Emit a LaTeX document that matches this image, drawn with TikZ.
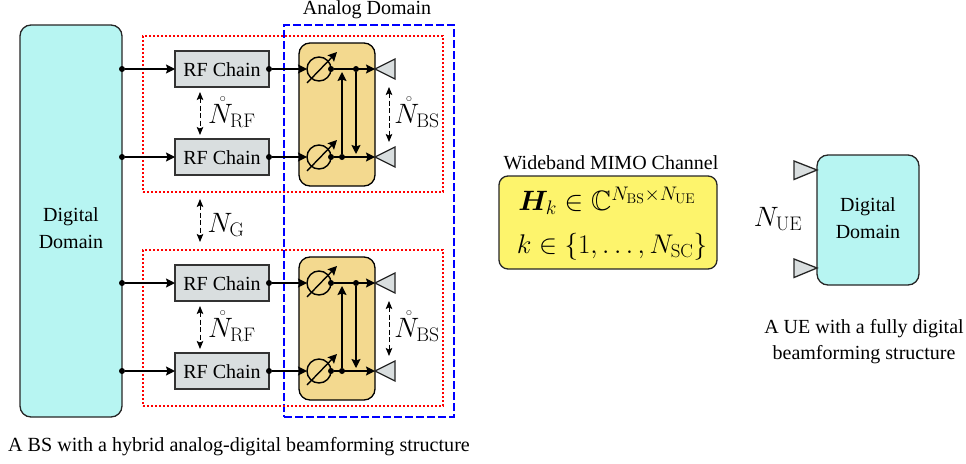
\documentclass[tikz,border=0pt]{standalone}
\usepackage{fix-cm}
\usepackage{amsmath,amssymb,bm}
\usepackage[no-math]{fontspec}
\newfontfamily\capfont{Liberation Serif}
\usetikzlibrary{arrows.meta,calc}
\definecolor{digcol}{HTML}{B7F5F2}
\definecolor{rfcol}{HTML}{D9DEDF}
\definecolor{goldcol}{HTML}{F3D98F}
\definecolor{yelcol}{HTML}{FDF46C}
\tikzset{
  x=1pt,y=-1pt,
  every node/.style={inner sep=0pt,outer sep=0pt},
  txt/.style={font=\capfont\fontsize{20}{24}\selectfont,align=center,text=black},
  mathbig/.style={font=\fontsize{28}{32}\selectfont},
  digitalbox/.style={draw=black!85,line width=1.3pt,fill=digcol,rounded corners=11pt},
  rfbox/.style={draw=black!80,line width=1.4pt,fill=rfcol,minimum width=94pt,minimum height=36pt},
  goldbox/.style={draw=black,line width=1.3pt,fill=goldcol,rounded corners=11pt,minimum width=76pt,minimum height=143pt},
  redbox/.style={draw=red,line width=2pt,dash pattern=on 2pt off 2pt,minimum width=300pt,minimum height=156pt},
  bluebox/.style={draw=blue,line width=2pt,dash pattern=on 8pt off 3pt,minimum width=170pt,minimum height=392pt},
  shifter/.style={draw=black,line width=1.4pt,circle,minimum size=24pt},
  wire/.style={line width=1.4pt,-{Stealth[length=9pt,width=9pt,inset=1.5pt]}},
  dashdbl/.style={line width=1pt,dash pattern=on 5pt off 2.5pt,{Stealth[length=8pt,width=6.5pt,inset=1.5pt]}-{Stealth[length=8pt,width=6.5pt,inset=1.5pt]}},
  dotmark/.style={circle,fill=black,minimum size=6pt},
  ant/.style={draw=black!85,line width=1.3pt,fill=rfcol,line join=miter},
}
\begin{document}
\begin{tikzpicture}
\useasboundingbox (0,0) rectangle (966,463);
% BS digital domain
\node[digitalbox,minimum width=102pt,minimum height=392pt] (bsd) at (71,221) {};
\node[txt] (bsl) at (71,228) {Digital\\[3pt]Domain};
% domain frames
\node[bluebox] (blue) at (369,221) {};
\node[txt,anchor=center] (analog) at (367,10) {Analog Domain};
\foreach \b/\o in {a/0,b/214}{
  \node[redbox] (\b red) at (293,{114+\o}) {};
  \node[goldbox] (\b gold) at (337,{114.5+\o}) {};
  \node[rfbox] (\b rf1) at (222,{69+\o}) {};
  \node[rfbox] (\b rf2) at (222,{157+\o}) {};
  \node[txt] (\b rl1) at (222,{70+\o}) {RF Chain};
  \node[txt] (\b rl2) at (222,{158+\o}) {RF Chain};
  \node[shifter] (\b ps1) at (319,{69+\o}) {};
  \node[shifter] (\b ps2) at (319,{157+\o}) {};
  \coordinate (\b tip1) at (375,{69+\o});
  \coordinate (\b tip2) at (375,{157+\o});
  \coordinate (\b src1) at (122,{69+\o});
  \coordinate (\b src2) at (122,{157+\o});
  % antennas
  \draw[ant] (\b tip1) -- ++(20,-10) -- ++(0,20) -- cycle;
  \draw[ant] (\b tip2) -- ++(20,-10) -- ++(0,20) -- cycle;
  % shifter slashes
  \draw[wire] ([xshift=-12pt,yshift=-14pt]\b ps1.center) -- ([xshift=18pt,yshift=17pt]\b ps1.center);
  \draw[wire] ([xshift=-12pt,yshift=-14pt]\b ps2.center) -- ([xshift=18pt,yshift=17pt]\b ps2.center);
  % signal wires
  \node[dotmark] (\b d1) at (\b src1) {};
  \node[dotmark] (\b d2) at (\b src2) {};
  \draw[wire] (\b d1) -- (\b rf1.west);
  \draw[wire] (\b d2) -- (\b rf2.west);
  \node[dotmark] (\b e1) at (\b rf1.east) {};
  \node[dotmark] (\b e2) at (\b rf2.east) {};
  \draw[wire] (\b e1) -- (\b ps1.west);
  \draw[wire] (\b e2) -- (\b ps2.west);
  \node[dotmark] (\b o1) at (\b ps1.east) {};
  \node[dotmark] (\b o2) at (\b ps2.east) {};
  \draw[wire] (\b o1) -- (\b tip1);
  \draw[wire] (\b o2) -- (\b tip2);
  \node[dotmark] (\b j1) at (356,{69+\o}) {};
  \node[dotmark] (\b j2) at (342,{157+\o}) {};
  \draw[wire] (\b j2) -- ([yshift=-3pt]\b j2 |- \b o1);
  \draw[wire] (\b j1) -- ([yshift=3pt]\b j1 |- \b o2);
  % counts
  \draw[dashdbl] ([xshift=-22pt,yshift=-5pt]\b rf1.south) -- ([xshift=-22pt,yshift=4pt]\b rf2.north);
  \draw[dashdbl] ([xshift=14pt,yshift=-18pt]\b tip1) -- ([xshift=14pt,yshift=15pt]\b tip2);
  \node[mathbig] (\b nrf) at (232,{112+\o}) {$\mathring{N}_{\mathrm{RF}}$};
  \node[mathbig] (\b nbs) at (417,{112+\o}) {$\mathring{N}_{\mathrm{BS}}$};
}
\draw[dashdbl] ([xshift=-93pt,yshift=-7pt]ared.south) -- ([xshift=-93pt,yshift=8pt]bred.north);
\node[mathbig] (ng) at (226,225) {$N_{\mathrm{G}}$};
\node[txt,font=\capfont\fontsize{20.1}{24}\selectfont] (cap1) at (239,447) {A BS with a hybrid analog-digital beamforming structure};
% channel
\node[txt] (wb) at (611,162.5) {Wideband MIMO Channel};
\node[draw=black!85,line width=1.3pt,fill=yelcol,rounded corners=9pt,minimum width=218pt,minimum height=93pt] (chan) at (608,222.5) {};
\node[mathbig] (hk) at (607,201) {$\bm{H}_k\in\mathbb{C}^{N_{\mathrm{BS}}\times N_{\mathrm{UE}}}$};
\node[font=\fontsize{27}{31}\selectfont] (kin) at (612,247) {$k\in\{1,\dots,N_{\mathrm{SC}}\}$};
% UE
\node[digitalbox,minimum width=102pt,minimum height=130pt] (ue) at (868,220) {};
\node[txt] (uel) at (868,218) {Digital\\[3pt]Domain};
\coordinate (ut1) at (817,170);
\coordinate (ut2) at (817,268);
\draw[ant] (ut1) -- ++(-23,-9) -- ++(0,18.5) -- cycle;
\draw[ant] (ut2) -- ++(-23,-9) -- ++(0,18.5) -- cycle;
\node[mathbig] (nue) at (778,219) {$N_{\mathrm{UE}}$};
\node[txt] (cap2) at (864,342) {A UE with a fully digital\\[2pt]beamforming structure};
\end{tikzpicture}
\end{document}
